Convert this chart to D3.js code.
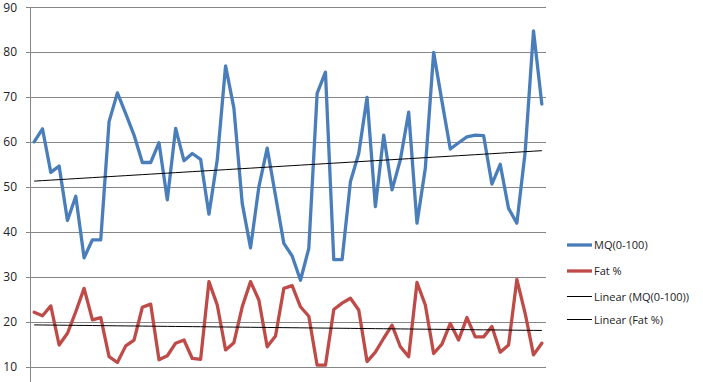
<!DOCTYPE html>
<html><head><meta charset="utf-8">
<script src="https://cdn.jsdelivr.net/npm/d3@7"></script>
<style>html,body{margin:0;padding:0;background:#fff;}svg{display:block;}</style>
</head><body>
<svg id="c" width="703" height="382"></svg>
<script>
const mq = [60,62.9,53.2,54.6,42.5,47.9,34.2,38.2,38.2,64.5,70.9,66.3,61.5,55.4,55.4,59.8,47.1,63,55.8,57.4,56.1,43.9,56,76.9,67.5,46.3,36.4,50,58.6,48,37.4,34.6,29.2,36.3,70.8,75.5,33.8,33.8,51.1,57.4,69.9,45.6,61.5,49.3,56,66.6,41.9,54.1,79.9,69,58.4,59.8,61.1,61.5,61.4,50.6,55,45.2,41.9,57.8,84.7,68.4];
const fat = [22.1,21.3,23.5,14.8,17.4,22.2,27.4,20.4,20.9,12.2,10.9,14.6,15.9,23.2,23.9,11.5,12.4,15.2,15.9,11.8,11.6,28.9,23.7,13.7,15.3,23.3,28.9,24.8,14.4,16.8,27.4,28,23.3,21.2,10.3,10.3,22.7,24.1,25.2,22.6,11.1,13.2,16.3,19.2,14.4,12.2,28.7,23.7,12.9,15,19.6,15.9,20.9,16.6,16.6,18.9,13.2,14.8,29.4,21.8,12.6,15.2];
const yTicks = [10,20,30,40,50,60,70,80,90];
const seriesNames = ["MQ(0-100)","Fat %","Linear (MQ(0-100))","Linear (Fat %)"];
const categories = d3.range(1, mq.length + 1);

(function(){
const svg = d3.select("#c");
const pl = 30, pr = 546, pt = 7, pb = 411.5;
const x = d3.scaleBand().domain(categories).range([pl, pr]);
const y = d3.scaleLinear().domain([0, 90]).range([pb, pt]);
const cx = d => x(d) + x.bandwidth() / 2;

svg.append("g").selectAll("line").data(yTicks).join("line")
  .attr("x1", pl - 4).attr("x2", pr)
  .attr("y1", d => Math.round(y(d)) + 0.5).attr("y2", d => Math.round(y(d)) + 0.5)
  .attr("stroke", "#868686").attr("stroke-width", 1);
svg.append("line").attr("x1", pl + 0.5).attr("x2", pl + 0.5).attr("y1", pt).attr("y2", pb)
  .attr("stroke", "#868686");
svg.append("g").selectAll("text").data(yTicks).join("text")
  .attr("x", 17).attr("y", d => y(d) + 4.5).attr("text-anchor", "end")
  .attr("font-family", "Open Sans, sans-serif").attr("font-size", 12).attr("fill", "#222")
  .text(d => d);

function trend(vals) {
  const n = vals.length, xs = d3.range(1, n + 1);
  const mx = d3.mean(xs), my = d3.mean(vals);
  const b = d3.sum(xs, (xi, i) => (xi - mx) * (vals[i] - my)) / d3.sum(xs, xi => (xi - mx) ** 2);
  const a = my - b * mx;
  return xs.map(xi => a + b * xi);
}

const line = d3.line().x((d, i) => cx(categories[i])).y(d => y(d));
svg.append("path").datum(mq).attr("d", line).attr("fill", "none")
  .attr("stroke", "#4A7EBB").attr("stroke-width", 3.3).attr("stroke-linejoin", "round").attr("stroke-linecap", "round");
svg.append("path").datum(fat).attr("d", line).attr("fill", "none")
  .attr("stroke", "#BE4B48").attr("stroke-width", 3.3).attr("stroke-linejoin", "round").attr("stroke-linecap", "round");
[trend(mq), trend(fat)].forEach(t => {
  svg.append("path").datum(t).attr("d", line).attr("fill", "none").attr("stroke", "#000").attr("stroke-width", 1);
});

const lg = svg.append("g");
const ly = [245, 271, 296.5, 319.5];
const lstyle = [{c:"#4A7EBB", w:3.3},{c:"#BE4B48", w:3.3},{c:"#000", w:1},{c:"#000", w:1}];
seriesNames.forEach((s, i) => {
  lg.append("line").attr("x1", 567).attr("x2", 592).attr("y1", ly[i]).attr("y2", ly[i])
    .attr("stroke", lstyle[i].c).attr("stroke-width", lstyle[i].w);
  lg.append("text").attr("x", 594).attr("y", ly[i] + 4).attr("font-family", "Open Sans, sans-serif")
    .attr("font-size", 11).attr("fill", "#222").text(s);
});
})();
</script>
</body></html>
